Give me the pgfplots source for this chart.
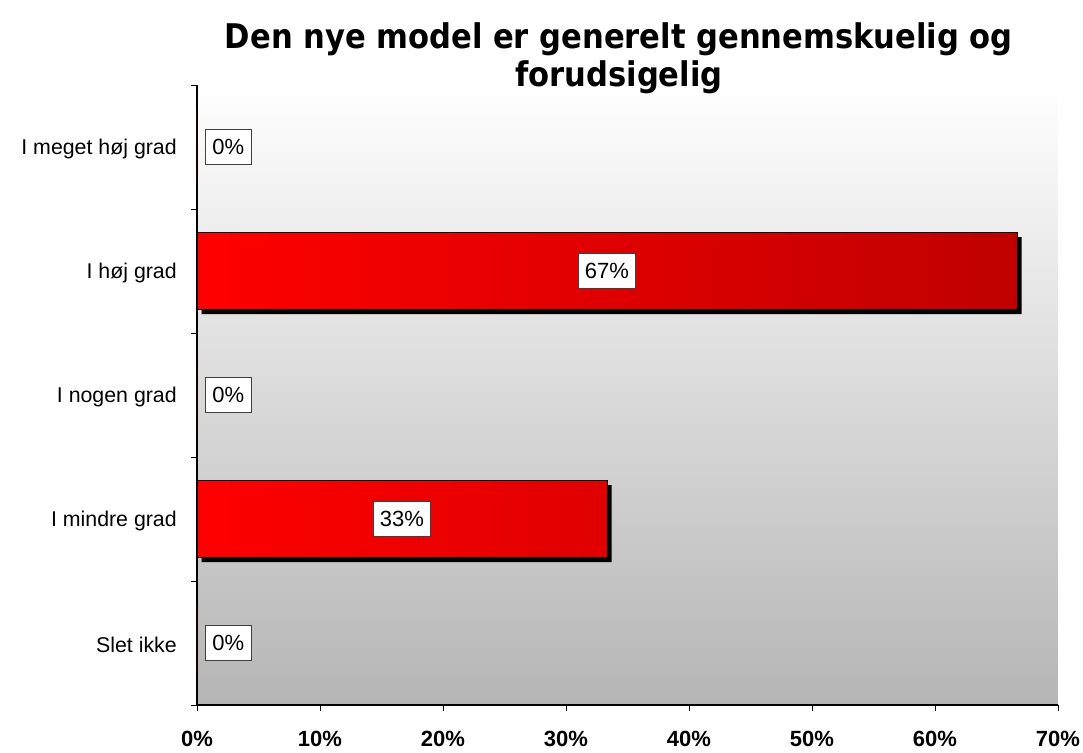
\documentclass[border=0pt]{standalone}
\usepackage{fontspec}
\setmainfont{Liberation Sans}
\newfontfamily\titlefont{DejaVu Sans Condensed}
\usepackage{pgfplots}
\pgfplotsset{compat=1.18}
\definecolor{barL}{HTML}{FF0000}
\definecolor{barR}{HTML}{C00000}
\begin{document}
\begin{tikzpicture}
\useasboundingbox (0,0) rectangle (812.25pt,564.75pt);
\begin{axis}[
  at={(147.75pt,36pt)}, anchor=south west,
  scale only axis, width=645.75pt, height=465pt,
  xbar, bar width=57.75pt, bar shift=0pt,
  xmin=0, xmax=70, ymin=-0.5, ymax=4.5,
  axis lines*=left,
  axis line style={black, line width=0.8pt},
  axis background/.style={shade, top color=white, bottom color=black!29},
  /pgf/number format/assume math mode=true,
  tick align=outside, major tick length=4.5pt,
  tick style={black, line width=0.6pt},
  xtick={0,10,...,70},
  xticklabel={\pgfmathprintnumber{\tick}\%},
  xticklabel style={font=\bfseries\fontsize{16.5}{18}\selectfont, inner sep=0pt, yshift=-15pt},
  ytick={-0.5,0.5,1.5,2.5,3.5,4.5},
  yticklabels={,,,,,},
  extra y ticks={0,1,2,3,4},
  extra y tick labels={Slet ikke,I mindre grad,I nogen grad,I høj grad,I meget høj grad},
  extra y tick style={major tick length=0pt,
    yticklabel style={font=\fontsize{16}{18}\selectfont, anchor=east, inner sep=0pt, xshift=-15pt, yshift=-1.5pt}},
  title={Den nye model er generelt gennemskuelig og\\forudsigelig},
  title style={font=\titlefont\bfseries\fontsize{25.5}{28.5}\selectfont, align=center,
    at={(0.49,1)}, anchor=south, inner sep=0pt, yshift=-12.5pt},
]
% shadow series (zero bars have no shadow)
\addplot[fill=black, draw=none, xshift=3.5pt, yshift=-3.5pt,
  unbounded coords=discard, x filter/.expression={x==0 ? nan : x}]
  coordinates {(0,0) (33.33,1) (0,2) (66.67,3) (0,4)};
% main bars
\addplot[draw=black, line width=0.6pt, left color=barL, right color=barR,
  nodes near coords={\pgfmathprintnumber[fixed,precision=0]{\pgfplotspointmeta}\%},
  visualization depends on={rawx \as \rawx},
  every node near coord/.append style={anchor=center, fill=white, draw=black!75,
    line width=0.5pt, inner xsep=5pt, inner ysep=7.5pt, text=black,
    font=\fontsize{16.5}{18}\selectfont,
    shift={(axis direction cs:-\rawx/2,0)},
    xshift={ifthenelse(\rawx==0,23.5,0)}}]
  coordinates {(0,0) (33.33,1) (0,2) (66.67,3) (0,4)};
\end{axis}
\end{tikzpicture}
\end{document}
